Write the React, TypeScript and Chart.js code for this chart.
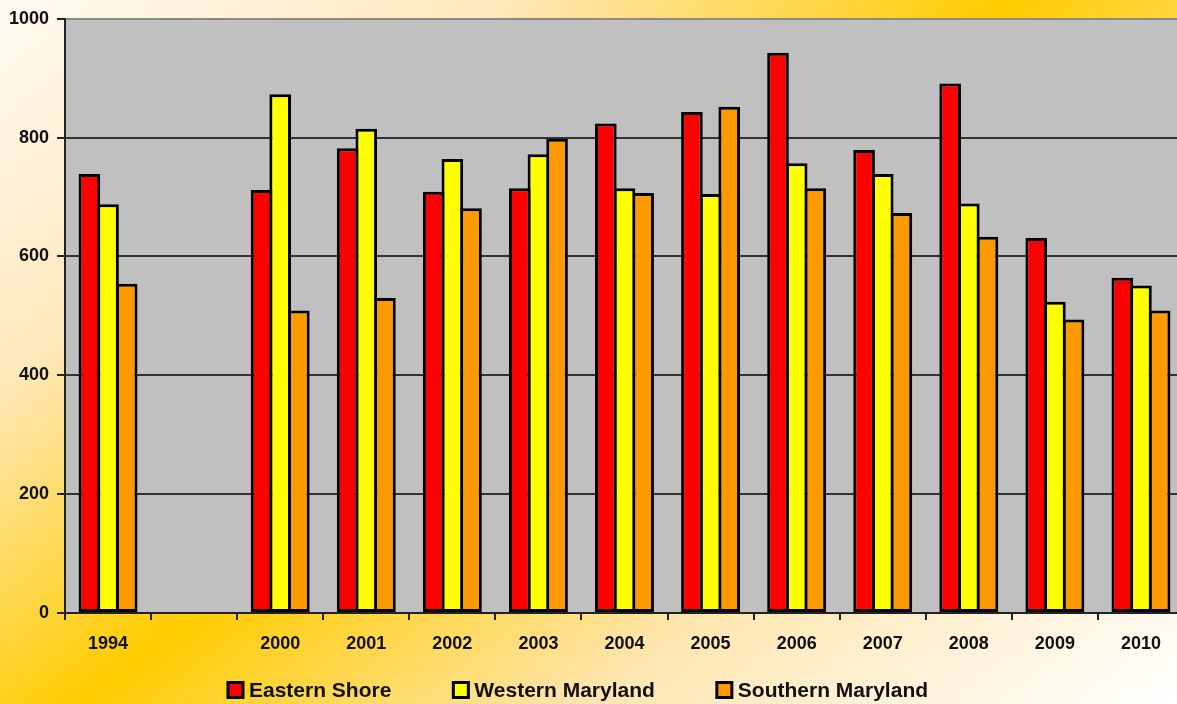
import React, { useEffect, useRef } from "react";
import { Chart, registerables } from "chart.js";

Chart.register(...registerables);

const categories = ["1994", "", "2000", "2001", "2002", "2003", "2004", "2005", "2006", "2007", "2008", "2009", "2010"];
const easternShore = [739, null, 712, 782, 709, 715, 824, 843, 943, 779, 891, 631, 564];
const westernMaryland = [688, null, 873, 815, 764, 772, 715, 705, 757, 739, 689, 524, 551];
const southernMaryland = [554, null, 509, 530, 681, 798, 707, 852, 715, 673, 633, 494, 509];
const seriesNames = ["Eastern Shore", "Western Maryland", "Southern Maryland"];
const seriesColors = ["#ff0000", "#ffff00", "#ff9900"];
const yTicks = [0, 200, 400, 600, 800, 1000];

const SANS = "'Liberation Sans', Arial, sans-serif";

const plotBg = {
  id: "plotBg",
  beforeDraw(chart: any) {
    const { ctx, chartArea } = chart;
    if (!chartArea) return;
    ctx.save();
    ctx.fillStyle = "#c0c0c0";
    ctx.fillRect(chartArea.left, chartArea.top, chartArea.right - chartArea.left, chartArea.bottom - chartArea.top);
    ctx.restore();
  },
};

const customLegend = {
  id: "customLegend",
  afterDraw(chart: any) {
    const ctx = chart.ctx;
    const datasets = chart.data.datasets;
    ctx.save();
    ctx.font = `bold 21px ${SANS}`;
    const box = 15;
    const gapText = 6;
    const gapItem = 62;
    const widths = datasets.map((d: any) => box + gapText + ctx.measureText(d.label).width);
    const total = widths.reduce((a: number, b: number) => a + b, 0) + gapItem * (datasets.length - 1);
    let x = 578 - total / 2;
    const cy = 690;
    datasets.forEach((d: any, i: number) => {
      ctx.fillStyle = d.backgroundColor;
      ctx.fillRect(x, cy - box / 2, box, box);
      ctx.lineWidth = 3;
      ctx.strokeStyle = "#000";
      ctx.strokeRect(x, cy - box / 2, box, box);
      ctx.fillStyle = "#111";
      ctx.textBaseline = "middle";
      ctx.textAlign = "left";
      ctx.fillText(d.label, x + box + gapText, cy + 1);
      x += widths[i] + gapItem;
    });
    ctx.restore();
  },
};

export default function App() {
  const ref = useRef<HTMLCanvasElement | null>(null);

  useEffect(() => {
    if (!ref.current) return;
    const values = [easternShore, westernMaryland, southernMaryland];
    const chart = new Chart(ref.current, {
      type: "bar",
      data: {
        labels: categories,
        datasets: values.map((v, i) => ({
          label: seriesNames[i],
          data: v,
          backgroundColor: seriesColors[i],
          borderColor: "#000",
          borderWidth: 3,
          borderSkipped: false,
          categoryPercentage: 0.65,
          barPercentage: 1.16,
        })),
      },
      options: {
        animation: false,
        responsive: true,
        maintainAspectRatio: false,
        layout: { padding: { top: 18, bottom: 30, left: 0, right: 0 } },
        plugins: {
          legend: { display: false },
          tooltip: { enabled: false },
          title: { display: false },
        },
        scales: {
          x: {
            ticks: {
              color: "#111",
              font: { family: SANS, size: 18, weight: "bold" },
              padding: 13,
              maxRotation: 0,
              autoSkip: false,
            },
            grid: {
              offset: true,
              drawOnChartArea: false,
              drawTicks: true,
              tickLength: 7,
              color: "#222",
              lineWidth: 2,
            },
            border: { color: "#222", width: 2 },
            afterFit: (s: any) => {
              s.height = 61;
            },
          },
          y: {
            min: 0,
            max: 1000,
            afterBuildTicks: (s: any) => {
              s.ticks = yTicks.map((v) => ({ value: v }));
            },
            ticks: {
              color: "#111",
              font: { family: SANS, size: 18, weight: "bold" },
              padding: 8,
              callback: (v: any) => String(v),
            },
            grid: {
              color: (c: any) => (c.tick && c.tick.value === 1000 ? "#8a8a8a" : "#333"),
              lineWidth: 2,
              drawTicks: true,
              tickLength: 8,
              tickColor: "#222",
            },
            border: { color: "#222", width: 2 },
            afterFit: (s: any) => {
              s.width = 65;
            },
          },
        },
      },
      plugins: [plotBg, customLegend],
    });
    return () => chart.destroy();
  }, []);

  return (
    <div
      style={{
        position: "fixed",
        inset: 0,
        overflow: "hidden",
        background:
          "linear-gradient(143deg, #fffaf2 0%, #ffe8bc 24%, #ffcc00 48%, #ffe6b0 72%, #ffffff 100%)",
      }}
    >
      <div style={{ position: "absolute", left: 0, top: 0, width: 1184, height: 704 }}>
        <canvas ref={ref} />
      </div>
    </div>
  );
}
